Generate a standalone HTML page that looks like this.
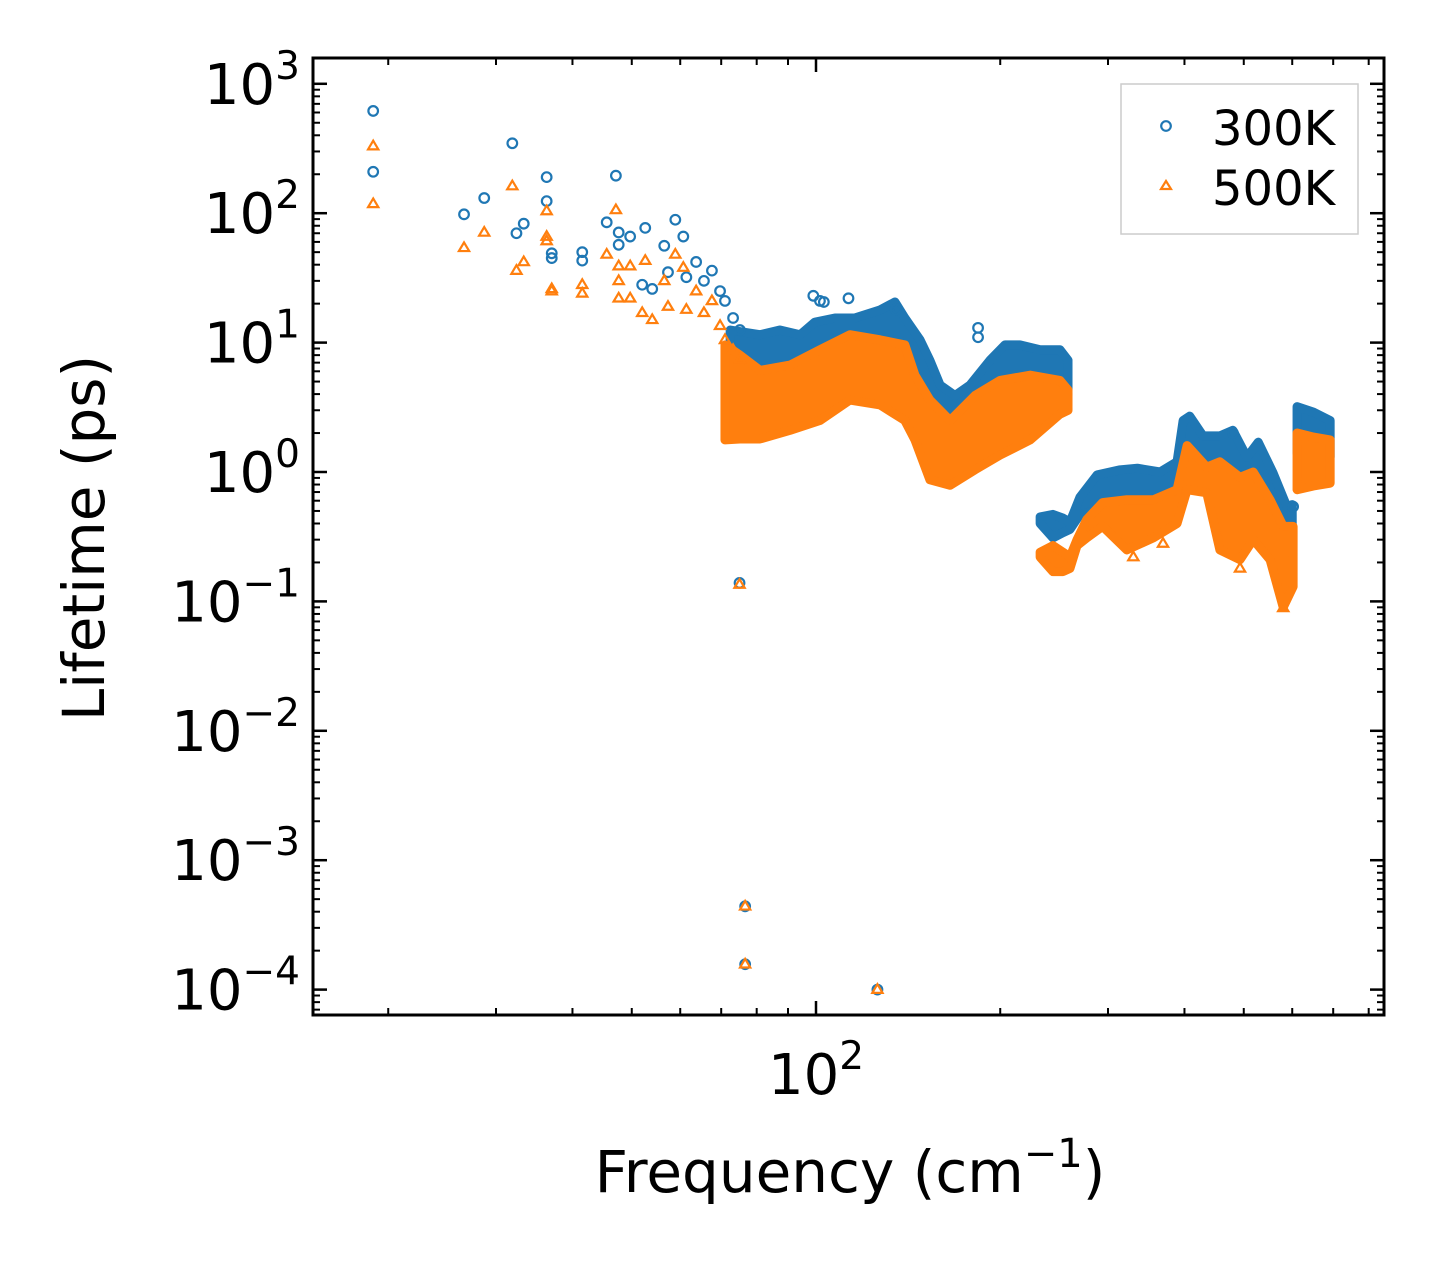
<!DOCTYPE html>
<html><head><meta charset="utf-8">
<style>
html,body{margin:0;padding:0;background:#fff;}
svg{display:block;font-family:"DejaVu Sans","Liberation Sans",sans-serif;}
</style></head>
<body>
<svg id="chart" width="1443" height="1265" viewBox="0 0 1443 1265" xmlns="http://www.w3.org/2000/svg">
<rect x="0" y="0" width="1443" height="1265" fill="#fff"/>
<g id="marks"></g>
<g id="axes"></g>
</svg>
<script>
// ---------- data ----------
const sparse300F = [18.9,18.9,26.6,28.7,31.9,32.4,33.3,36.3,36.3,37.0,37.0,41.5,41.5,45.5,47.1,47.6,47.6,49.7,52.0,52.6,54.0,56.5,57.3,58.9,60.7,61.4,63.7,65.6,67.6,69.7,71.0,73.2,75.1,75,76.6,76.6,126,99,101.5,103,113,184,184,135,480,602];
const sparse300V = [617,209,98,131,347,70,83,190,124,49,45,50,43,85,195,71,57,66,28,77,26,56,35,89,66,32,42,30,36,25,21,15.5,12.5,0.139,4.4e-4,1.57e-4,1.0e-4,23,21,20.6,22,13,11,18,2.0,0.54];
const sparse500F = [18.9,18.9,26.6,28.7,31.9,32.4,33.3,36.3,36.3,36.3,37.0,37.0,41.5,41.5,45.5,47.1,47.6,47.6,47.6,49.7,49.7,52.0,52.6,54.0,56.5,57.3,58.9,60.7,61.4,63.7,65.6,67.6,69.7,71.0,73.2,75.1,75,76.6,76.6,126,330,369,493,580];
const sparse500V = [330,118,54,71,162,36,42,104,66,61,26,25,28,24,48,106,39,30,22,39,22,17,43,15,30,19,48,38,18,25,17,21,13.5,10.5,8.8,7.4,0.135,4.4e-4,1.57e-4,1.0e-4,0.22,0.28,0.18,0.089];

const band300aF = [72.4,81.0,87.3,94.2,99.6,107.4,115.8,127.3,134.6,139.7,147.9,153.5,159.5,168.7,178.5,192.4,203.6,215.4,232.4,250.4,258.1];
const band300aHi = [12.5,11.5,12.5,11.5,14.4,15.5,15.5,17.9,20.6,15.5,10.5,7.3,4.7,3.9,4.7,7.3,9.6,9.6,8.8,8.8,7.3];
const band300aLo = [3.3,3.1,3.5,3.7,3.9,4.5,4.7,4.3,3.9,2.5,1.77,1.48,1.35,1.35,1.53,1.77,2.1,2.5,3.3,3.6,3.9];
const band300bF = [232.4,243.9,253.3,260,270,288,314,335,365,389,398,408,429,457,480,506,528,558,588,600];
const band300bHi = [0.45,0.47,0.44,0.41,0.64,0.95,1.04,1.07,1.0,1.2,2.5,2.7,1.9,1.9,2.1,1.3,1.7,0.99,0.54,0.56];
const band300bLo = [0.40,0.31,0.34,0.36,0.47,0.51,0.56,0.56,0.56,0.61,1.04,1.04,0.87,0.66,0.73,0.61,0.61,0.47,0.30,0.30];
const band300cF = [611,650,692];
const band300cHi = [3.2,2.9,2.5];
const band300cLo = [1.4,1.3,1.3];

const band500aF = [71.0,75.1,81.0,90.7,101.5,113.6,127.3,139.7,145.1,153.5,165.6,181.9,199.8,223.9,250.4,258.1];
const band500aHi = [9.6,8.0,6.1,6.7,8.8,11.5,10.5,9.6,5.6,3.6,2.5,3.9,5.1,5.6,5.1,4.3];
const band500aLo = [1.77,1.8,1.8,2.1,2.5,3.6,3.3,2.5,1.77,0.87,0.79,1.04,1.35,1.77,2.8,3.0];
const band500bF = [232.4,243.9,253.3,260,267,277,294,322,356,389,404,435,457,493,518,552,580,602];
const band500bHi = [0.24,0.27,0.24,0.22,0.30,0.43,0.58,0.61,0.61,0.73,1.6,1.09,1.2,0.91,1.0,0.61,0.38,0.38];
const band500bLo = [0.22,0.17,0.17,0.18,0.27,0.31,0.38,0.25,0.31,0.40,0.73,0.69,0.25,0.21,0.30,0.21,0.09,0.13];
const band500cF = [611,650,692];
const band500cHi = [2.0,1.86,1.77];
const band500cLo = [0.73,0.78,0.82];

const yTickExp = [3,2,1,0,-1,-2,-3,-4];
const xTickExp = [2];
const seriesNames = ["300K","500K"];

// ---------- axes functions ----------
const PL=313, PR=1384, PT=58, PB=1015;
const xDec=612, x100=816, yDec=129.4, y1=472;
function X(f){return x100 + xDec*Math.log10(f/100);}
function Y(v){return y1 - yDec*Math.log10(v);}
const NS="http://www.w3.org/2000/svg";
function mk(tag, attrs, parent){
  const e=document.createElementNS(NS,tag);
  for(const k in attrs) e.setAttribute(k,attrs[k]);
  parent.appendChild(e); return e;
}
const marks=document.getElementById('marks');
const axes=document.getElementById('axes');
const BLUE="#1f77b4", ORANGE="#ff7f0e";

const defs=mk('defs',{},marks);
const cp=mk('clipPath',{id:'clip'},defs);
mk('rect',{x:PL,y:PT,width:PR-PL,height:PB-PT},cp);
const plot=mk('g',{'clip-path':'url(#clip)'},marks);

function circle(f,v,parent){
  const c=mk('circle',{cx:X(f),cy:Y(v),r:4.8,fill:'none',stroke:BLUE,'stroke-width':2.2},parent);
  
  
}
function tri(f,v,parent){
  const x=X(f), y=Y(v), s=5.4;
  const p=mk('polygon',{points:`${x},${y-s} ${x+s*0.95},${y+s*0.6} ${x-s*0.95},${y+s*0.6}`,fill:'none',stroke:ORANGE,'stroke-width':2.2},parent);
  
  
}
function band(F,Hi,Lo,color,name,parent){
  let pts=[];
  for(let i=0;i<F.length;i++) pts.push(X(F[i])+','+Y(Hi[i]));
  for(let i=F.length-1;i>=0;i--) pts.push(X(F[i])+','+Y(Lo[i]));
  const p=mk('polygon',{points:pts.join(' '),fill:color,stroke:color,'stroke-width':9,'stroke-linejoin':'round'},parent);
  
  
}

const g300=mk('g',{},plot);


band(band300aF,band300aHi,band300aLo,BLUE,'band-300k-low',g300);
band(band300bF,band300bHi,band300bLo,BLUE,'band-300k-mid',g300);
band(band300cF,band300cHi,band300cLo,BLUE,'band-300k-high',g300);
for(let i=0;i<sparse300F.length;i++) circle(sparse300F[i],sparse300V[i],g300);

const g500=mk('g',{},plot);


band(band500aF,band500aHi,band500aLo,ORANGE,'band-500k-low',g500);
band(band500bF,band500bHi,band500bLo,ORANGE,'band-500k-mid',g500);
band(band500cF,band500cHi,band500cLo,ORANGE,'band-500k-high',g500);
for(let i=0;i<sparse500F.length;i++) tri(sparse500F[i],sparse500V[i],g500);

// ---------- ticks ----------
function line(x1,y1_,x2,y2,w){mk('line',{x1:x1,y1:y1_,x2:x2,y2:y2,stroke:'#000','stroke-width':w},axes);}
for(const e of yTickExp){
  const y=Y(Math.pow(10,e));
  line(PL,y,PL+14,y,2.5); line(PR,y,PR-14,y,2.5);
  const t=mk('text',{x:300,y:y+20,'text-anchor':'end','font-size':56,fill:'#000'},axes);
  
  
  const b=mk('tspan',{},t); b.textContent='10';
  const s=mk('tspan',{dy:-25,'font-size':39},t); s.textContent=(e<0?'\u2212':'')+Math.abs(e);
}
for(let e=-5;e<=3;e++){
  for(let m=2;m<=9;m++){
    const y=Y(m*Math.pow(10,e));
    if(y<PT||y>PB) continue;
    line(PL,y,PL+7,y,2); line(PR,y,PR-7,y,2);
  }
}
for(const e of xTickExp){
  const x=X(Math.pow(10,e));
  line(x,PB,x,PB-14,2.5); line(x,PT,x,PT+14,2.5);
  const t=mk('text',{x:x,y:1094,'text-anchor':'middle','font-size':56,fill:'#000'},axes);
  
  
  const b=mk('tspan',{},t); b.textContent='10';
  const s=mk('tspan',{dy:-25,'font-size':39},t); s.textContent=String(e);
}
for(let e=1;e<=2;e++){
  for(let m=2;m<=9;m++){
    const x=X(m*Math.pow(10,e));
    if(x<PL||x>PR) continue;
    line(x,PB,x,PB-7,2); line(x,PT,x,PT+7,2);
  }
}
const frame=mk('rect',{x:PL,y:PT,width:PR-PL,height:PB-PT,fill:'none',stroke:'#000','stroke-width':3},axes);



// titles
const xt=mk('text',{x:850,y:1192,'text-anchor':'middle','font-size':58,fill:'#000'},axes);


const a=mk('tspan',{},xt); a.textContent='Frequency (cm';
const b=mk('tspan',{dy:-25,'font-size':40},xt); b.textContent='\u22121';
const c=mk('tspan',{dy:25},xt); c.textContent=')';
const yt=mk('text',{x:0,y:0,'text-anchor':'middle','font-size':58,fill:'#000',transform:'translate(104,538) rotate(-90)'},axes);


yt.textContent='Lifetime (ps)';

// legend
const lg=mk('g',{},axes);


mk('rect',{x:1121,y:84,width:237,height:150,fill:'#fff',stroke:'#ccc','stroke-width':1.5},lg);
const e1=mk('circle',{cx:1166,cy:126,r:4.8,fill:'none',stroke:BLUE,'stroke-width':2.2},lg);


const e2=mk('polygon',{points:'1166,181 1171,189 1161,189',fill:'none',stroke:ORANGE,'stroke-width':2.2},lg);


const l1=mk('text',{x:1212,y:145,'font-size':48,fill:'#000'},lg);


l1.textContent=seriesNames[0];
const l2=mk('text',{x:1212,y:205,'font-size':48,fill:'#000'},lg);


l2.textContent=seriesNames[1];
</script>
</body></html>
